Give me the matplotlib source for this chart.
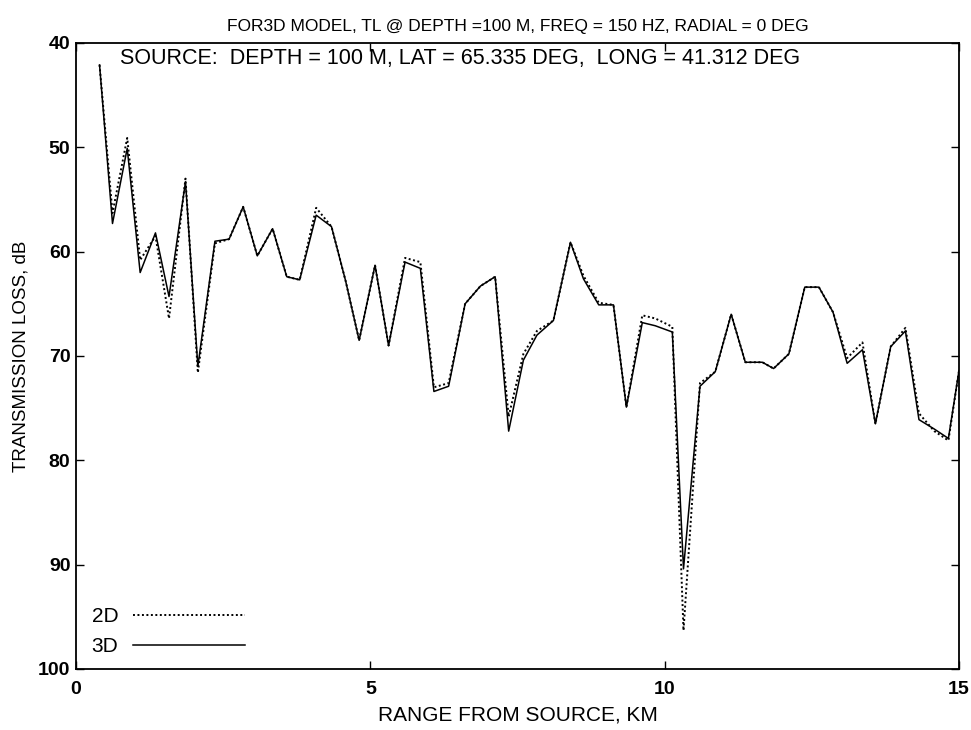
import matplotlib
matplotlib.use("Agg")
import matplotlib.pyplot as plt

# Range samples (km) and transmission loss (dB) for the 3D and 2D runs
range_km = [0.40, 0.62, 0.87, 1.09, 1.35, 1.58, 1.86, 2.07, 2.36, 2.60,
            2.84, 3.08, 3.34, 3.58, 3.80, 4.08, 4.34, 4.58, 4.81, 5.08,
            5.31, 5.59, 5.85, 6.08, 6.33, 6.61, 6.87, 7.12, 7.35, 7.60,
            7.83, 8.11, 8.40, 8.62, 8.88, 9.13, 9.35, 9.62, 9.84, 10.13,
            10.32, 10.60, 10.86, 11.13, 11.37, 11.66, 11.85, 12.11, 12.38, 12.62,
            12.86, 13.10, 13.36, 13.58, 13.84, 14.09, 14.32, 14.58, 14.82, 15.00]

tl_3d = [42.1, 57.3, 50.1, 62.0, 58.2, 64.3, 53.3, 71.0, 59.0, 58.8,
         55.7, 60.4, 57.8, 62.4, 62.7, 56.5, 57.6, 62.8, 68.5, 61.3,
         69.0, 61.0, 61.6, 73.4, 72.9, 65.0, 63.3, 62.4, 77.2, 70.4,
         68.0, 66.6, 59.1, 62.6, 65.1, 65.1, 74.9, 66.8, 67.1, 67.7,
         90.4, 72.9, 71.5, 66.0, 70.6, 70.6, 71.2, 69.8, 63.4, 63.4,
         65.8, 70.7, 69.4, 76.5, 69.1, 67.6, 76.1, 77.0, 77.9, 71.4]

tl_2d = [42.1, 56.3, 49.1, 60.8, 58.5, 66.4, 53.0, 71.6, 59.2, 58.8,
         55.7, 60.4, 57.8, 62.4, 62.7, 55.8, 57.6, 62.8, 68.5, 61.3,
         69.0, 60.6, 61.0, 73.0, 72.6, 65.0, 63.3, 62.4, 75.8, 69.8,
         67.6, 66.6, 59.1, 62.3, 64.9, 65.1, 74.9, 66.1, 66.4, 67.2,
         96.3, 72.6, 71.5, 66.0, 70.6, 70.6, 71.2, 69.8, 63.4, 63.4,
         65.8, 70.2, 68.7, 76.5, 69.1, 67.3, 75.5, 77.2, 78.1, 71.4]

x_ticks = [0, 5, 10, 15]
y_ticks = [40, 50, 60, 70, 80, 90, 100]

title_text = "FOR3D MODEL, TL @ DEPTH =100 M, FREQ = 150 HZ, RADIAL = 0 DEG"
source_text = "SOURCE:  DEPTH = 100 M, LAT = 65.335 DEG,  LONG = 41.312 DEG"

plt.rcParams["font.family"] = ["Liberation Sans", "DejaVu Sans"]

fig = plt.figure(figsize=(9.71, 7.30), dpi=100)
ax = fig.add_axes([76 / 971, 1 - 669 / 730, (959 - 76) / 971, (669 - 43) / 730])

ax.plot(range_km, tl_2d, color="black", lw=1.4, linestyle=(0, (1, 1.3)), label="2D")
ax.plot(range_km, tl_3d, color="black", lw=1.1, linestyle="-", label="3D")

ax.set_xlim(0, 15)
ax.set_ylim(100, 40)
ax.set_xticks(x_ticks)
ax.set_yticks(y_ticks)
ax.tick_params(direction="in", length=6, width=1, top=True, right=True,
               labelsize=14)
ax.tick_params(axis="x", pad=9)
ax.tick_params(axis="y", pad=4)
for lab in ax.get_xticklabels() + ax.get_yticklabels():
    lab.set_fontweight("bold")
for s in ax.spines.values():
    s.set_linewidth(1.3)

ax.set_xlabel("RANGE FROM SOURCE, KM", fontsize=15, labelpad=5)
ax.set_ylabel("TRANSMISSION LOSS, dB", fontsize=13.5, labelpad=6)
ax.set_title(title_text, fontsize=12.5, pad=9)

ax.text(0.75, 41.5, source_text, fontsize=15.5, va="center", ha="left")

leg = ax.legend(loc="lower left", frameon=False, markerfirst=False, fontsize=15,
                handlelength=5.4, handletextpad=0.7, labelspacing=0.55,
                borderaxespad=0.0, bbox_to_anchor=(0.008, 0.007))

fig.savefig("out.png", dpi=100)
